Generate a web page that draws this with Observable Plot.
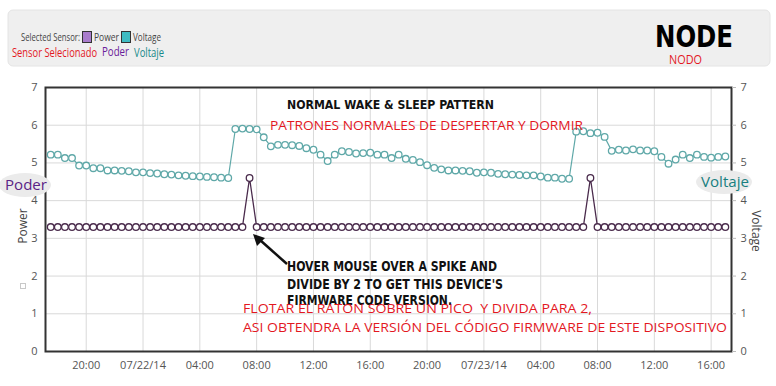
<!DOCTYPE html>
<html>
<head>
<meta charset="utf-8">
<script src="https://cdn.jsdelivr.net/npm/d3@7"></script>
<script src="https://cdn.jsdelivr.net/npm/@observablehq/plot@0.6"></script>
<style>
  html, body { margin: 0; padding: 0; background: #fff; }
  #wrap { position: relative; width: 776px; height: 386px; overflow: hidden; font-family: "Open Sans", sans-serif; }
  #header { position: absolute; left: 0; top: 0; width: 776px; height: 80px; }
  #chart { position: absolute; left: 0; top: 80px; }
  #overlay { position: absolute; left: 0; top: 0; pointer-events: none; }
</style>
</head>
<body>
<div id="wrap">
  <div id="header"></div>
  <div id="chart"></div>
  <svg id="overlay" width="776" height="386"></svg>
</div>
<script>
// ---- data ----
const startTime = "2014-07-21T17:30:00Z";   // first reading, 30-minute interval
const stepMinutes = 30;

const voltage = [
  5.22, 5.22, 5.13, 5.13, 4.93, 4.93, 4.86, 4.86, 4.80, 4.80,
  4.79, 4.78, 4.75, 4.75, 4.73, 4.72, 4.70, 4.69, 4.67, 4.66,
  4.65, 4.64, 4.63, 4.62, 4.61, 4.60, 5.90, 5.91, 5.90, 5.89,
  5.68, 5.44, 5.48, 5.48, 5.47, 5.45, 5.39, 5.35, 5.22, 5.05,
  5.22, 5.31, 5.29, 5.25, 5.26, 5.27, 5.22, 5.22, 5.13, 5.22,
  5.11, 5.08, 5.02, 4.94, 4.87, 4.83, 4.80, 4.80, 4.79, 4.78,
  4.74, 4.75, 4.74, 4.71, 4.70, 4.69, 4.68, 4.67, 4.67, 4.64,
  4.61, 4.61, 4.58, 4.58, 5.83, 5.84, 5.79, 5.80, 5.69, 5.32,
  5.35, 5.33, 5.36, 5.33, 5.33, 5.31, 5.16, 4.98, 5.09, 5.22,
  5.13, 5.22, 5.16, 5.14, 5.16, 5.17
];

const power = [
  3.3, 3.3, 3.3, 3.3, 3.3, 3.3, 3.3, 3.3, 3.3, 3.3,
  3.3, 3.3, 3.3, 3.3, 3.3, 3.3, 3.3, 3.3, 3.3, 3.3,
  3.3, 3.3, 3.3, 3.3, 3.3, 3.3, 3.3, 3.3, 4.6, 3.3,
  3.3, 3.3, 3.3, 3.3, 3.3, 3.3, 3.3, 3.3, 3.3, 3.3,
  3.3, 3.3, 3.3, 3.3, 3.3, 3.3, 3.3, 3.3, 3.3, 3.3,
  3.3, 3.3, 3.3, 3.3, 3.3, 3.3, 3.3, 3.3, 3.3, 3.3,
  3.3, 3.3, 3.3, 3.3, 3.3, 3.3, 3.3, 3.3, 3.3, 3.3,
  3.3, 3.3, 3.3, 3.3, 3.3, 3.3, 4.6, 3.3, 3.3, 3.3,
  3.3, 3.3, 3.3, 3.3, 3.3, 3.3, 3.3, 3.3, 3.3, 3.3,
  3.3, 3.3, 3.3, 3.3, 3.3, 3.3
];

const xDomain = ["2014-07-21T17:08:00Z", "2014-07-23T17:26:00Z"];
const xTickStart = "2014-07-21T20:00:00Z";
const xTickEnd = "2014-07-23T17:00:00Z";
const yTicks = [0, 1, 2, 3, 4, 5, 6, 7];

const colors = { voltage: "#5fa8a8", power: "#4a2b4c" };

// ---- build ----
const t0 = new Date(startTime).getTime();
const rows = voltage.map((v, i) => ({
  t: new Date(t0 + i * stepMinutes * 60000),
  voltage: v,
  power: power[i]
}));
const xTicks = d3.utcHours(new Date(xTickStart), new Date(xTickEnd), 4);
const fmtDay = d3.utcFormat("%m/%d/%y"), fmtHour = d3.utcFormat("%H:%M");
const tickFormat = d => d.getUTCHours() === 0 ? fmtDay(d) : fmtHour(d);

const chart = Plot.plot({
  width: 776, height: 306,
  marginLeft: 45, marginRight: 45, marginTop: 7, marginBottom: 35,
  style: { fontFamily: "Open Sans, sans-serif", fontSize: "11px", color: "#555", background: "transparent" },
  x: { type: "utc", domain: xDomain.map(d => new Date(d)) },
  y: { domain: [0, 7] },
  marks: [
    Plot.gridX(xTicks, { stroke: "#d9d9d9", strokeOpacity: 1 }),
    Plot.gridY(yTicks, { stroke: "#d9d9d9", strokeOpacity: 1 }),
    Plot.line(rows, { x: "t", y: "voltage", stroke: colors.voltage, strokeWidth: 1.2 }),
    Plot.dot(rows, { x: "t", y: "voltage", r: 3.3, stroke: colors.voltage, fill: "white", strokeWidth: 1.3 }),
    Plot.line(rows, { x: "t", y: "power", stroke: colors.power, strokeWidth: 1.3 }),
    Plot.dot(rows, { x: "t", y: "power", r: 3.3, stroke: colors.power, fill: "white", strokeWidth: 1.3 }),
    Plot.frame({ stroke: "#333", strokeWidth: 2 }),
    Plot.axisX(xTicks, { tickSize: 0, tickPadding: 10, tickFormat, label: null, fill: "#555" }),
    Plot.axisY(yTicks, { anchor: "left", tickSize: 0, tickPadding: 8, label: null, fill: "#555" }),
    Plot.axisY(yTicks, { anchor: "right", tickSize: 4, tickPadding: 5, label: null, stroke: "#bbb", fill: "#555" })
  ]
});
document.getElementById("chart").appendChild(chart);

// ---- header + annotations (text overlay) ----
const ov = d3.select("#overlay");
ov.append("rect").attr("x", 8).attr("y", 10).attr("width", 762).attr("height", 56).attr("rx", 5)
  .attr("fill", "#efefef").attr("stroke", "#e4e4e4");

// legend swatches
ov.append("rect").attr("x", 82.5).attr("y", 31.5).attr("width", 9).attr("height", 11)
  .attr("fill", "#a97ccc").attr("stroke", "#333").attr("stroke-width", 1);
ov.append("rect").attr("x", 121.5).attr("y", 31.5).attr("width", 9).attr("height", 11)
  .attr("fill", "#3fbcc2").attr("stroke", "#333").attr("stroke-width", 1);

// label backgrounds
ov.append("ellipse").attr("cx", 25).attr("cy", 185).attr("rx", 26).attr("ry", 12).attr("fill", "#ebebeb");
ov.append("ellipse").attr("cx", 724).attr("cy", 182).attr("rx", 28).attr("ry", 12).attr("fill", "#ebebeb");

// faint marker
ov.append("rect").attr("x", 20.5).attr("y", 283.5).attr("width", 5).attr("height", 5)
  .attr("fill", "none").attr("stroke", "#c8c8c8");

// arrow
ov.append("line").attr("x1", 287).attr("y1", 264).attr("x2", 260).attr("y2", 240)
  .attr("stroke", "#111").attr("stroke-width", 2.5);
ov.append("path").attr("d", "M253,234 L265,238 L257,246 Z").attr("fill", "#111");

const BOLD = "'Liberation Sans Narrow', 'DejaVu Sans Condensed', 'Arial Narrow', sans-serif";
const SANS = "'Open Sans', sans-serif";
const texts = [
  { s: "Selected Sensor:", x: 21, y: 41, size: 11, fill: "#444", w: 59 },
  { s: "Power", x: 94, y: 41, size: 11, fill: "#444", w: 25 },
  { s: "Voltage", x: 133, y: 41, size: 11, fill: "#444", w: 28 },
  { s: "Sensor Selecionado", x: 12, y: 57, size: 13, fill: "#e3181f", w: 85 },
  { s: "Poder", x: 102, y: 56, size: 13, fill: "#6a1b9a", w: 27 },
  { s: "Voltaje", x: 134, y: 57, size: 13, fill: "#178a8a", w: 30 },
  { s: "NODE", x: 655, y: 47, size: 31, fill: "#000", w: 78, family: BOLD, weight: 900 },
  { s: "NODO", x: 669, y: 64, size: 12, fill: "#e3181f", w: 33 },
  { s: "NORMAL WAKE & SLEEP PATTERN", x: 287, y: 109, size: 13, fill: "#111", w: 207, family: BOLD, weight: 700 },
  { s: "PATRONES NORMALES DE DESPERTAR Y DORMIR", x: 270, y: 130, size: 13, fill: "#e3181f", w: 313 },
  { s: "Poder", x: 5, y: 190, size: 14, fill: "#5b2386", w: 42 },
  { s: "Voltaje", x: 701, y: 187, size: 14, fill: "#187f7f", w: 48 },
  { s: "HOVER MOUSE OVER A SPIKE AND", x: 287, y: 271, size: 14, fill: "#111", w: 210, family: BOLD, weight: 700 },
  { s: "DIVIDE BY 2 TO GET THIS DEVICE'S", x: 287, y: 289, size: 14, fill: "#111", w: 216, family: BOLD, weight: 700 },
  { s: "FIRMWARE CODE VERSION.", x: 287, y: 305, size: 14, fill: "#111", w: 165, family: BOLD, weight: 700 },
  { s: "FLOTAR EL RATON SOBRE UN PICO  Y DIVIDA PARA 2,", x: 243, y: 313, size: 13, fill: "#e3181f", w: 349 },
  { s: "ASI OBTENDRA LA VERSIÓN DEL CÓDIGO FIRMWARE DE ESTE DISPOSITIVO", x: 243, y: 332, size: 13, fill: "#e3181f", w: 484 }
];
texts.forEach(d => {
  ov.append("text").text(d.s)
    .attr("x", d.x).attr("y", d.y)
    .attr("font-family", d.family || SANS)
    .attr("font-size", d.size)
    .attr("font-weight", d.weight || 400)
    .attr("fill", d.fill)
    .attr("textLength", d.w)
    .attr("lengthAdjust", "spacingAndGlyphs")
    .style("white-space", "pre");
});

// axis titles
ov.append("text").text("Power").attr("transform", "translate(27,226) rotate(-90)")
  .attr("text-anchor", "middle").attr("font-family", SANS).attr("font-size", 12).attr("fill", "#444");
ov.append("text").text("Voltage").attr("transform", "translate(752,231) rotate(90)")
  .attr("text-anchor", "middle").attr("font-family", SANS).attr("font-size", 12).attr("fill", "#444");
</script>
</body>
</html>
